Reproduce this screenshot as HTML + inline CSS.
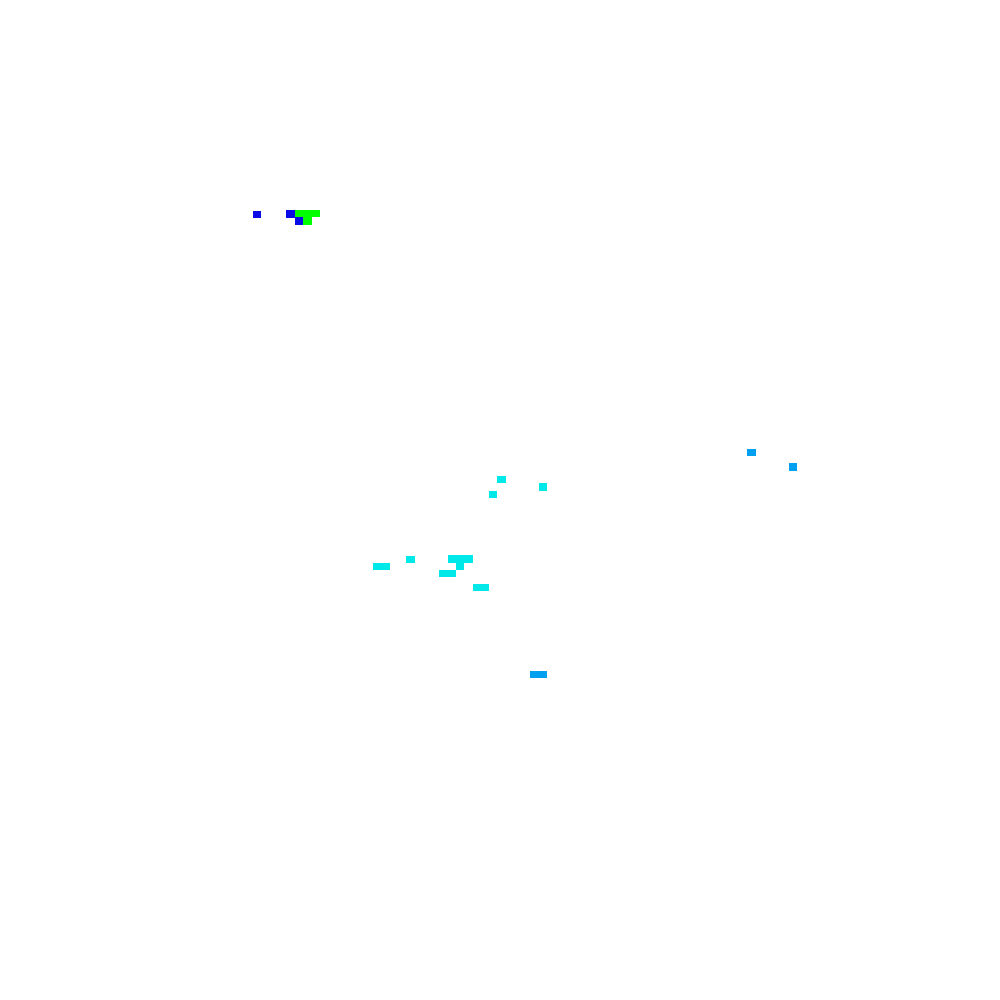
<!DOCTYPE html>
<html><head><meta charset="utf-8"><style>
html,body{margin:0;padding:0;background:#fff;width:1000px;height:1000px;overflow:hidden;position:relative}
div{position:absolute}
.b{background:#0a0ae6}.g{background:#00ff00}.c{background:#00e8e8}.l{background:#00a0f0}
</style></head><body>
<div class="b" style="left:253px;top:211px;width:8px;height:7px"></div>
<div class="b" style="left:286px;top:210px;width:9px;height:8px"></div>
<div class="g" style="left:295px;top:210px;width:25px;height:7px"></div>
<div class="b" style="left:295px;top:217px;width:8px;height:8px"></div>
<div class="g" style="left:303px;top:217px;width:9px;height:8px"></div>
<div class="c" style="left:497px;top:476px;width:9px;height:7px"></div>
<div class="c" style="left:539px;top:483px;width:8px;height:8px"></div>
<div class="c" style="left:489px;top:491px;width:8px;height:7px"></div>
<div class="c" style="left:406px;top:556px;width:9px;height:7px"></div>
<div class="c" style="left:373px;top:563px;width:17px;height:7px"></div>
<div class="c" style="left:448px;top:555px;width:25px;height:8px"></div>
<div class="c" style="left:456px;top:563px;width:8px;height:7px"></div>
<div class="c" style="left:439px;top:570px;width:17px;height:7px"></div>
<div class="c" style="left:473px;top:584px;width:16px;height:7px"></div>
<div class="l" style="left:747px;top:449px;width:9px;height:7px"></div>
<div class="l" style="left:789px;top:463px;width:8px;height:8px"></div>
<div class="l" style="left:530px;top:671px;width:17px;height:7px"></div>
</body></html>
